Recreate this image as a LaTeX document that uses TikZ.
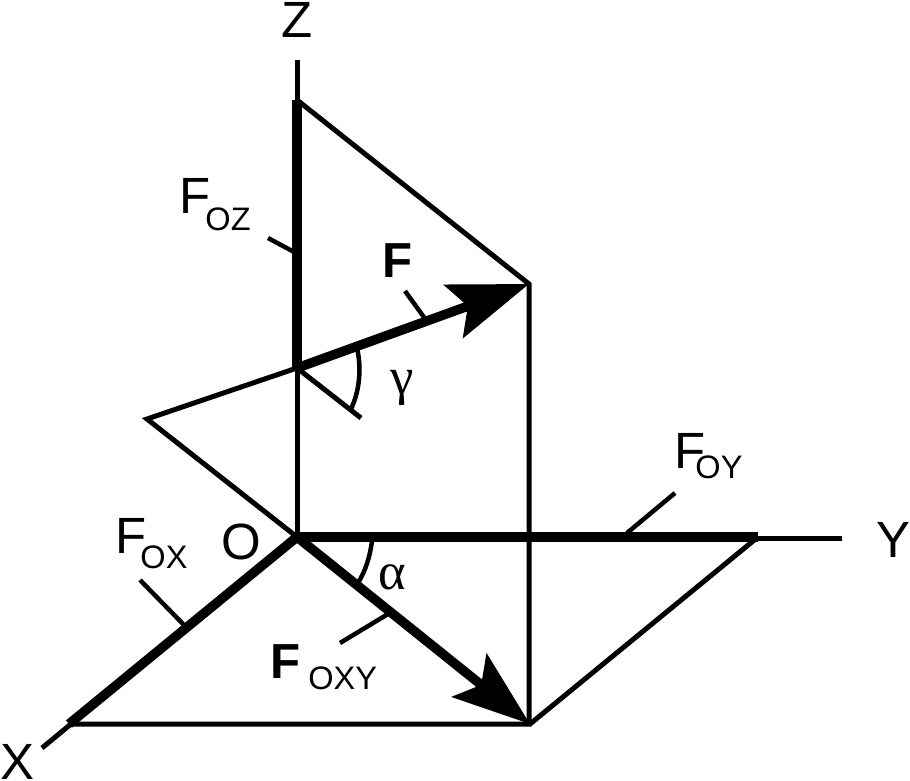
\documentclass[tikz,border=0pt]{standalone}
\usepackage{fontspec}
\setmainfont{Liberation Sans}
\newfontfamily\greekfont{Liberation Serif}
\usetikzlibrary{arrows.meta}
\tikzstyle{axis} = [draw, line width=0.1cm, line cap=butt]
\tikzstyle{force} = [draw, line width=0.19cm, line join=miter]
\tikzstyle{tick} = [draw, line width=0.09cm]
\tikzstyle{caption} = [inner sep=0pt, font=\fontsize{29}{32}\selectfont]
\tikzstyle{greek} = [inner sep=0pt, font=\fontsize{30}{32}\selectfont\greekfont]
\newcommand{\forcelabel}[4]{#1\kern#3\raisebox{#4}{\fontsize{18.5}{20}\selectfont #2}}
\begin{document}
\begin{tikzpicture}[x=0.02cm, y=-0.02cm]
  \useasboundingbox (0,0) rectangle (910,781);
  % frame of the figure
  \coordinate (zend) at (297,60);
  \coordinate (ztop) at (297,100);
  \coordinate (fstart) at (297,368);
  \coordinate (ftip) at (529,284);
  \coordinate (back) at (147,419);
  \coordinate (origin) at (297,537);
  \coordinate (yfoot) at (758,537);
  \coordinate (ybase) at (297,538);
  \coordinate (yend) at (842,538);
  \coordinate (oxyt) at (530,724);
  \coordinate (xfoot) at (69,724);
  \coordinate (xend) at (42,748);
  \path [axis] (zend) -- (origin);
  \path [axis] (ybase) -- (yend);
  \path [axis] (origin) -- (xend);
  \path [axis] (ztop) -- (ftip) -- (529,724) -- (xfoot);
  \path [axis] (yfoot) -- (oxyt);
  \path [axis] (fstart) -- (back) -- (origin);
  % components
  \path [force] (ztop) -- (fstart);
  \path [force] (origin) -- (yfoot);
  \path [force] (origin) -- (xfoot);
  \path [force, -{Stealth[length=1.6cm, width=1.12cm, inset=0.3cm]}] (fstart) -- (ftip);
  \path [force, -{Stealth[length=1.55cm, width=1.1cm, inset=0.3cm]}] (origin) -- (oxyt);
  % angles
  \coordinate (gammaend) at (361,418);
  \path [axis] (fstart) -- (gammaend);
  \coordinate (ga) at (357,348);
  \coordinate (gb) at (351,409);
  \path [tick] (ga) .. controls (362,370) and (359,392) .. (gb);
  \coordinate (aa) at (372,541);
  \coordinate (ab) at (358,583);
  \path [tick] (aa) .. controls (370,556) and (366,570) .. (ab);
  % leaders
  \coordinate (zl1) at (268,238);
  \coordinate (zl2) at (296,253);
  \coordinate (fl1) at (405,291);
  \coordinate (fl2) at (426,320);
  \coordinate (yl1) at (675,493);
  \coordinate (yl2) at (627,533);
  \coordinate (xl1) at (140,580);
  \coordinate (xl2) at (185,626);
  \coordinate (pl1) at (340,643);
  \coordinate (pl2) at (388,614);
  \path [tick] (zl1) -- (zl2);
  \path [tick] (fl1) -- (fl2);
  \path [tick] (yl1) -- (yl2);
  \path [tick] (xl1) -- (xl2);
  \path [tick] (pl1) -- (pl2);
  % labels
  \node [caption] (zname) at (297,20) {Z};
  \node [caption] (yname) at (893,540) {Y};
  \node [caption] (xname) at (17,762) {X};
  \node [caption] (oname) at (241,542) {O};
  \node [caption, anchor=base west] (foz) at (179,213) {\forcelabel{F}{OZ}{-0.1cm}{-0.36cm}};
  \node [caption, anchor=base west] (foy) at (674,468) {\forcelabel{F}{OY}{-0.2cm}{-0.2cm}};
  \node [caption, anchor=base west] (fox) at (115,553) {\forcelabel{F}{OX}{-0.12cm}{-0.3cm}};
  \node [caption, anchor=base west, font=\fontsize{28}{32}\selectfont\bfseries] (fvec) at (382,277) {F};
  \node [caption, anchor=base west] (foxy) at (270,678) {\fontsize{28}{32}\selectfont\textbf{F}\forcelabel{}{OXY}{0.16cm}{-0.22cm}};
  \node [greek] (gammaname) at (402,388) {γ};
  \node [greek] (alphaname) at (392,577) {α};
\end{tikzpicture}
\end{document}
